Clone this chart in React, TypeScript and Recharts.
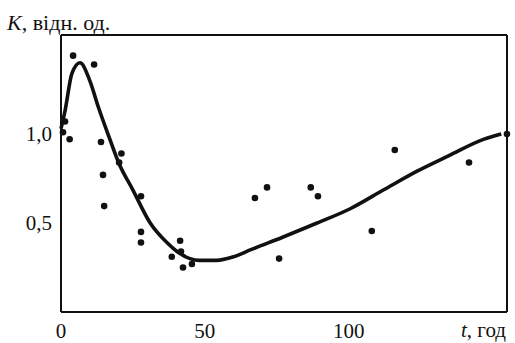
import { ComposedChart, Line, Scatter, XAxis, YAxis } from 'recharts';

// fitted curve K(t)
const curveT = [0, 1.4, 3.8, 6.6, 10, 13, 17, 20, 25, 31, 36.8, 40.3, 44.8, 48, 54, 60, 66, 77, 89, 100.5, 112, 123.6, 135, 146.8, 153];
const curveK = [1.03, 1.13, 1.34, 1.4, 1.3, 1.15, 0.97, 0.84, 0.685, 0.5, 0.39, 0.34, 0.3, 0.29, 0.29, 0.31, 0.35, 0.42, 0.5, 0.58, 0.685, 0.79, 0.88, 0.97, 1.0];

// measured points
const pointT = [4.2, 11.5, 1.4, 0.7, 3, 13.9, 14.6, 15, 21, 20.2, 27.8, 27.8, 27.8, 38.5, 41.4, 41.7, 42.4, 45.5, 67.4, 71.6, 75.8, 86.8, 89.3, 108, 116, 141.8, 155];
const pointK = [1.44, 1.39, 1.07, 1.01, 0.97, 0.955, 0.77, 0.595, 0.89, 0.84, 0.65, 0.45, 0.39, 0.31, 0.4, 0.34, 0.25, 0.27, 0.64, 0.7, 0.3, 0.7, 0.65, 0.455, 0.91, 0.84, 1.0];

const xTicks = [0, 50, 100];
const yTicks = [0.5, 1.0];
const xMax = 155;
const yMax = 1.556;

const curve = curveT.map((t, i) => ({ t, k: curveK[i] }));
const points = pointT.map((t, i) => ({ t, k: pointK[i] }));

const font = '"Liberation Serif", "Times New Roman", serif';
const tickStyle = { fill: '#111', fontSize: 21, fontFamily: font };
const axisStyle = { stroke: '#111', strokeWidth: 2 };

const Dot = (props: any) => <circle cx={props.cx} cy={props.cy} r={3.3} fill="#111" />;

export default function App() {
  return (
    <div style={{ position: 'absolute', left: 0, top: 0, width: 515, height: 343, background: '#fff', fontFamily: font }}>
      <ComposedChart width={515} height={343} margin={{ top: 34, right: 7, left: 0, bottom: 0 }}>
        {/* label-only axes */}
        <XAxis
          type="number"
          dataKey="t"
          domain={[0, xMax]}
          ticks={xTicks}
          height={31}
          axisLine={false}
          tickLine={false}
          tickMargin={5}
          tick={tickStyle}
        />
        <YAxis
          type="number"
          domain={[0, yMax]}
          ticks={yTicks}
          width={61}
          axisLine={false}
          tickLine={false}
          tickMargin={3}
          tick={tickStyle}
          tickFormatter={(v: number) => v.toFixed(1).replace('.', ',')}
        />
        {/* frame lines with inward ticks */}
        <XAxis
          xAxisId="bottomLine"
          orientation="bottom"
          mirror
          type="number"
          domain={[0, xMax]}
          ticks={xTicks.slice(1)}
          height={30}
          axisLine={axisStyle}
          tickLine={axisStyle}
          tickSize={6}
          tick={false}
        />
        <YAxis
          yAxisId="leftLine"
          orientation="left"
          mirror
          type="number"
          domain={[0, yMax]}
          ticks={yTicks}
          width={60}
          axisLine={axisStyle}
          tickLine={axisStyle}
          tickSize={6}
          tick={false}
        />
        <XAxis
          xAxisId="top"
          orientation="top"
          type="number"
          domain={[0, xMax]}
          height={1}
          axisLine={axisStyle}
          tickLine={false}
          tick={false}
        />
        <YAxis
          yAxisId="right"
          orientation="right"
          type="number"
          domain={[0, yMax]}
          ticks={[0.5]}
          width={1}
          axisLine={axisStyle}
          tickLine={axisStyle}
          tickSize={-5}
          tick={false}
        />
        <Line data={curve} dataKey="k" type="monotone" stroke="#111" strokeWidth={3.6} dot={false} activeDot={false} isAnimationActive={false} />
        <Scatter data={points} dataKey="k" shape={Dot} isAnimationActive={false} />
      </ComposedChart>
      <div style={{ position: 'absolute', left: 7, top: 12, fontSize: 22, lineHeight: '22px', color: '#111', whiteSpace: 'nowrap' }}>
        <i>K</i>, відн. од.
      </div>
      <div style={{ position: 'absolute', left: 461, top: 320, fontSize: 21, lineHeight: '21px', color: '#111', whiteSpace: 'nowrap' }}>
        <i>t</i>, год
      </div>
    </div>
  );
}
